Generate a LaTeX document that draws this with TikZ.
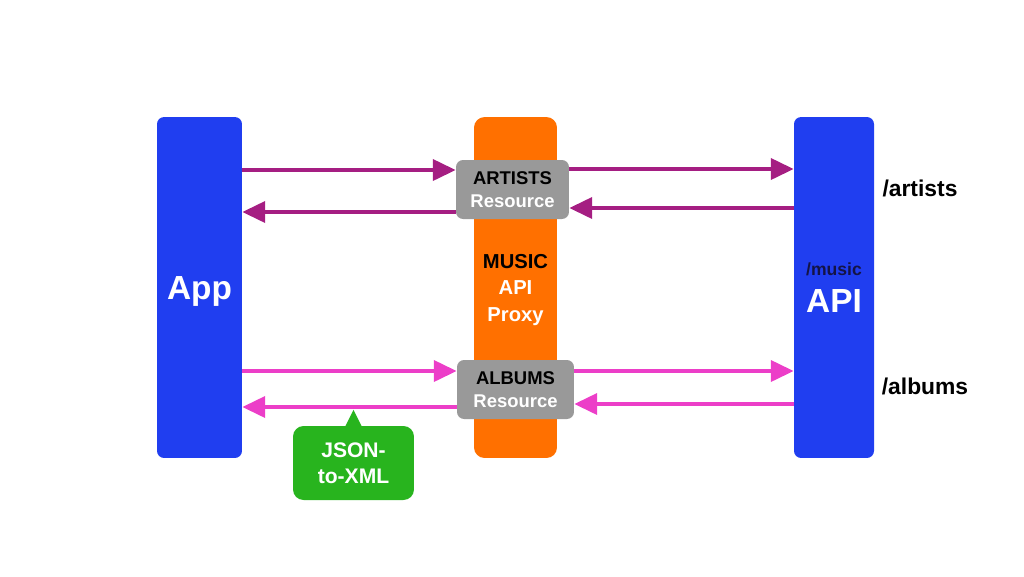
\documentclass[tikz,border=0pt]{standalone}
\usepackage{fontspec}
\setmainfont{Liberation Sans}
\usetikzlibrary{arrows.meta}

\definecolor{appblue}{RGB}{32,62,240}
\definecolor{proxyorange}{RGB}{255,112,0}
\definecolor{resgray}{RGB}{153,153,153}
\definecolor{artcol}{RGB}{165,30,130}
\definecolor{albcol}{RGB}{236,62,200}
\definecolor{jsongreen}{RGB}{40,180,30}
\definecolor{musicnavy}{RGB}{20,20,70}

\begin{document}
\begin{tikzpicture}[x=0.02cm,y=-0.02cm,font=\bfseries,
  tall/.style={rounded corners=4pt,minimum height=6.82cm,inner sep=0pt,align=center},
  res/.style={fill=resgray,rounded corners=4pt,minimum height=1.18cm,inner sep=0pt,align=center,
    font=\bfseries\fontsize{10.5}{11}\selectfont},
  artline/.style={draw=artcol,line width=2pt,-{Triangle[length=13pt,width=12pt]}},
  albline/.style={draw=albcol,line width=2pt,-{Triangle[length=13pt,width=12pt]}}]
%\draw[help lines] (0,0) grid[step=50] (1024,576);
  \useasboundingbox (0,0) rectangle (1024,576);

  \node[tall,fill=appblue,minimum width=1.70cm] (app) at (199.5,287.5) {};
  \node[text=white,font=\bfseries\fontsize{19}{22}\selectfont] (apptext) at (199.5,291) {App};
  \node[tall,fill=proxyorange,minimum width=1.66cm,rounded corners=6pt] (proxy) at (515.5,287.5) {};
  \node[align=center,font=\bfseries\fontsize{11.5}{14}\selectfont] (proxytext) at (515.5,290)
    {MUSIC\\[1pt]\textcolor{white}{API}\\[1pt]\textcolor{white}{Proxy}};
  \node[tall,fill=appblue,minimum width=1.60cm]
    (api) at (834,287.5) {{\fontsize{10}{12}\selectfont\color{musicnavy}/music}\\[7pt]
      {\fontsize{19}{22}\selectfont\color{white}API}};

  \node[res,minimum width=2.26cm] (art) at (512.5,189.5) {ARTISTS\\[2pt]\textcolor{white}{Resource}};
  \node[res,minimum width=2.34cm] (alb) at (515.5,389.5) {ALBUMS\\[2pt]\textcolor{white}{Resource}};

  \node[font=\bfseries\fontsize{13}{15}\selectfont] (artpath) at (920,188) {/artists};
  \node[font=\bfseries\fontsize{13}{15}\selectfont] (albpath) at (925,386) {/albums};

  \node[fill=jsongreen,rounded corners=6pt,minimum width=2.42cm,minimum height=1.48cm,inner sep=0pt,
    align=center,text=white,font=\bfseries\fontsize{12}{15}\selectfont]
    (json) at (353.5,463) {JSON-\\to-XML};
  \fill[jsongreen] ([xshift=-5pt,yshift=-1pt]json.north) -- ([yshift=9pt]json.north)
    -- ([xshift=5pt,yshift=-1pt]json.north) -- cycle;

  \draw[artline] (app.east |- 0,170) -- (art.west |- 0,170);
  \draw[artline] (art.east |- 0,169) -- (api.west |- 0,169);
  \draw[artline] (api.west |- 0,208) -- (art.east |- 0,208);
  \draw[artline] (art.west |- 0,212) -- (app.east |- 0,212);

  \draw[albline] (app.east |- 0,371) -- (alb.west |- 0,371);
  \draw[albline] (alb.east |- 0,371) -- (api.west |- 0,371);
  \draw[albline] (api.west |- 0,404) -- (alb.east |- 0,404);
  \draw[albline] (alb.west |- 0,407) -- (app.east |- 0,407);
\end{tikzpicture}
\end{document}
